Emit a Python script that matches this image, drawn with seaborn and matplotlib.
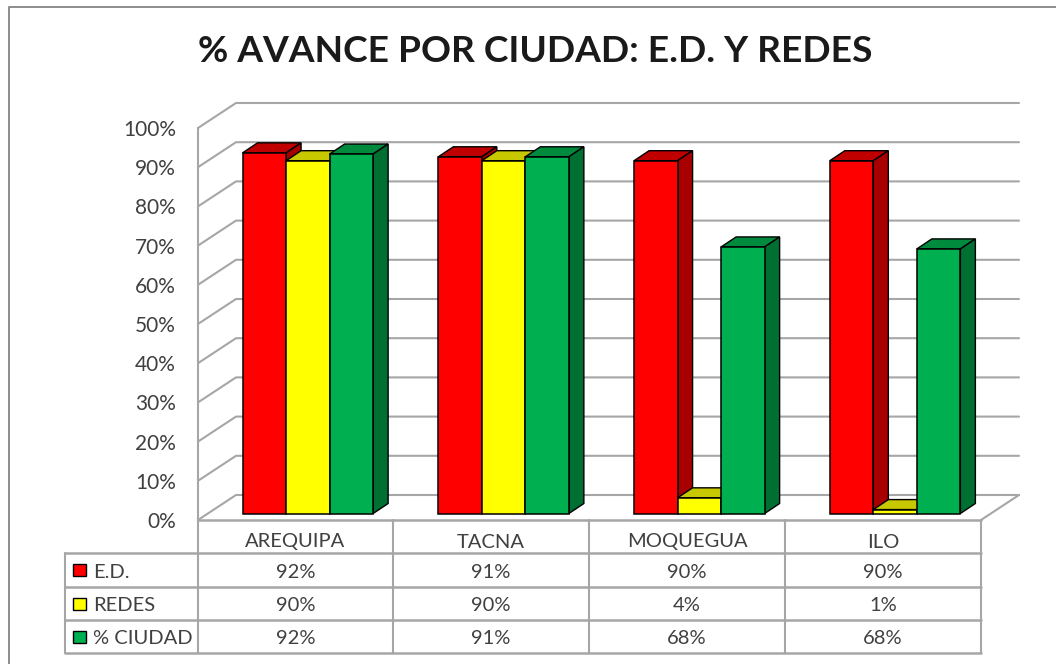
import matplotlib
matplotlib.use('Agg')
import matplotlib.pyplot as plt
from matplotlib.patches import Polygon, Rectangle
import pandas as pd
import seaborn as sns

# Data
cities = ['AREQUIPA', 'TACNA', 'MOQUEGUA', 'ILO']
series_names = ['E.D.', 'REDES', '% CIUDAD']
ed_values = [92, 91, 90, 90]
redes_values = [90, 90, 4, 1]
ciudad_values = [91.7, 91, 68, 67.5]
ciudad_labels = [92, 91, 68, 68]
y_ticks = [0, 10, 20, 30, 40, 50, 60, 70, 80, 90, 100]
title = '% AVANCE POR CIUDAD: E.D. Y REDES'

front_colors = ['#ff0000', '#ffff00', '#00b050']
top_colors = ['#c00000', '#c8c800', '#008a3e']
side_colors = ['#a80000', '#a8a800', '#006f32']
line_gray = '#a6a6a6'

df = pd.DataFrame({
    'city': cities * 3,
    'serie': [s for s in series_names for _ in cities],
    'value': ed_values + redes_values + ciudad_values,
})

sns.set_theme(style='white')
plt.rcParams['font.family'] = ['Lato', 'DejaVu Sans']

W, H = 1056, 664
fig = plt.figure(figsize=(W / 100, H / 100), dpi=100, facecolor='white')

# pixel overlay for the chart frame, walls and table
bg = fig.add_axes([0, 0, 1, 1])
bg.set_xlim(0, W)
bg.set_ylim(H, 0)
bg.axis('off')

# front plane of the 3D box
x0, x1, y0, y100 = 198, 981, 520, 128
ax = fig.add_axes([x0 / W, 1 - y0 / H, (x1 - x0) / W, (y0 - y100) / H])
ax.patch.set_alpha(0)

# chart frame
bg.plot([9, 9, W], [H, 7, 7], color='#8c8c8c', lw=1.4)

# walls
depth_x, depth_y = 38, 25
for v in y_ticks:
    y = y0 - (y0 - y100) * v / 100
    bg.plot([x0, x0 + depth_x, x1 + depth_x], [y, y - depth_y, y - depth_y],
            color=line_gray, lw=1.5)
bg.plot([x0, x0], [y100, y0], color=line_gray, lw=1.5)
bg.plot([x1, x1 + depth_x], [y0, y0 - depth_y], color=line_gray, lw=1.5)

# bars
sns.barplot(data=df, x='city', y='value', hue='serie', order=cities,
            hue_order=series_names, palette=front_colors, width=0.667, gap=0,
            saturation=1, legend=False, edgecolor='black', linewidth=1.1, ax=ax)

ax.set_xlim(-0.5, 3.5)
ax.set_ylim(0, 100)
ax.set_xlabel('')
ax.set_ylabel('')
ax.set_xticks([])
ax.set_yticks(y_ticks)
ax.set_yticklabels([f'{v}%' for v in y_ticks], fontsize=15, color='#404040',
                   va='center_baseline')
ax.tick_params(axis='y', length=0, pad=16)
sns.despine(ax=ax, left=True, bottom=True)

# push bars into the box and add top and side faces
shift_x = 12 / 196
shift_y = 6.5 / 3.92
bar_dx = 15 / 196
bar_dy = 10 / 3.92
bars = [p for p in ax.patches if p.get_height() > 0]
for i, bar in enumerate(bars):
    s = i // len(cities)
    c = i % len(cities)
    bar.set_x(bar.get_x() + shift_x)
    bar.set_y(shift_y)
    left = bar.get_x()
    right = left + bar.get_width()
    top = shift_y + bar.get_height()
    z = 3 + c * 3 + s
    bar.set_zorder(z + 0.5)
    bar.set_clip_on(False)
    ax.add_patch(Polygon([(left, top), (left + bar_dx, top + bar_dy),
                          (right + bar_dx, top + bar_dy), (right, top)],
                         facecolor=top_colors[s], edgecolor='black', lw=1,
                         zorder=z, clip_on=False))
    ax.add_patch(Polygon([(right, shift_y), (right + bar_dx, shift_y + bar_dy),
                          (right + bar_dx, top + bar_dy), (right, top)],
                         facecolor=side_colors[s], edgecolor='black', lw=1,
                         zorder=z, clip_on=False))

# data table
row_y = [520, 553, 587, 620, 653]
col_x = [198, 393, 589, 785, 981]
table_left = 65
for i, y in enumerate(row_y):
    bg.plot([x0 if i == 0 else table_left, x1], [y, y], color=line_gray, lw=1.8)
for x in col_x:
    bg.plot([x, x], [row_y[0], row_y[-1]], color=line_gray, lw=1.5)
bg.plot([table_left, table_left], [row_y[1], row_y[-1]], color=line_gray, lw=1.5)

text_kw = dict(ha='center', va='center_baseline', fontsize=14.5, color='#404040')
for c, city in enumerate(cities):
    cx = (col_x[c] + col_x[c + 1]) / 2
    bg.text(cx, (row_y[0] + row_y[1]) / 2 + 4, city, **text_kw)
    for r, vals in enumerate([ed_values, redes_values, ciudad_labels]):
        bg.text(cx, (row_y[r + 1] + row_y[r + 2]) / 2 + 0.5, f'{vals[c]}%', **text_kw)

for r, name in enumerate(series_names):
    cy = (row_y[r + 1] + row_y[r + 2]) / 2
    bg.add_patch(Rectangle((73, cy - 6), 13, 12, facecolor=front_colors[r],
                           edgecolor='black', lw=1))
    bg.text(93, cy + 0.5, name, ha='left', va='center_baseline', fontsize=14.5,
            color='#404040')

bg.text(535, 49, title, ha='center', va='center_baseline', fontsize=26.7,
        fontweight='bold', color='#1a1a1a')

fig.savefig('out.png', dpi=100)
